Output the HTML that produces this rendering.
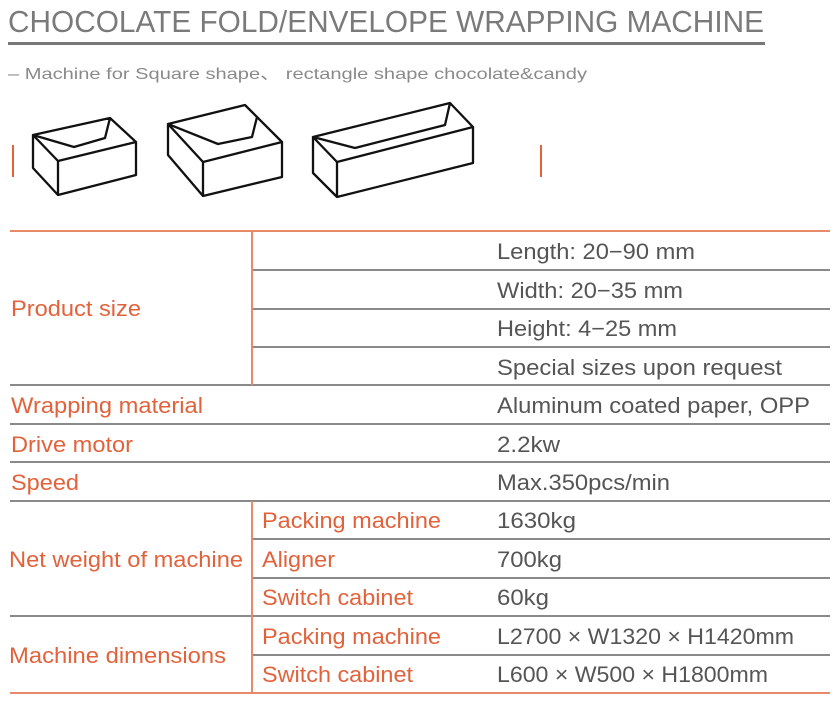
<!DOCTYPE html>
<html><head><meta charset="utf-8"><style>
html,body{margin:0;padding:0;background:#fff;}
svg{display:block;}
text{font-family:"Liberation Sans","Noto Sans CJK SC",sans-serif;}
.l{fill:#e2623c;font-size:22px;}
.v{fill:#555;font-size:22px;}
</style></head><body>
<svg width="836" height="704" viewBox="0 0 836 704" xmlns="http://www.w3.org/2000/svg">
<text x="8" y="32" font-size="31" fill="#7a7a7a" textLength="756" lengthAdjust="spacingAndGlyphs">CHOCOLATE FOLD/ENVELOPE WRAPPING MACHINE</text>
<rect x="8" y="42" width="757" height="3" fill="#777"/>
<text x="8" y="79" font-size="16" fill="#8a8a8a" textLength="579" lengthAdjust="spacingAndGlyphs">– Machine for Square shape、 rectangle shape chocolate&amp;candy</text>
<rect x="12" y="145" width="2" height="32" fill="#e2623c"/>
<rect x="540" y="145" width="2" height="32" fill="#e2623c"/>
<g fill="none" stroke="#111" stroke-width="2.3" stroke-linejoin="round">
<path d="M33,135 L110,118 L136,142 L58,161 Z M58,161 L58,195 L136,175 L136,142 M33,135 L33,168 L58,195 M33,135 L74,147 L105,138 L110,118"/>
<path d="M168,124 L245,105 L282,142 L203,162 Z M203,162 L203,196 L282,177 L282,142 M168,124 L168,155 L203,196 M168,124 L218,144 L252,137 L257,117"/>
<path d="M313,137 L450,103 L473,127 L337,162 Z M337,162 L337,197 L473,163 L473,127 M313,137 L313,173 L337,197 M313,137 L355,148 L445,125 L450,103"/>
</g>
<g fill="#8a8a8a">
<rect x="252" y="269" width="578" height="2"/>
<rect x="252" y="308" width="578" height="2"/>
<rect x="252" y="346" width="578" height="2"/>
<rect x="10" y="384" width="820" height="2"/>
<rect x="10" y="423" width="820" height="2"/>
<rect x="10" y="461" width="820" height="2"/>
<rect x="10" y="500" width="820" height="2"/>
<rect x="252" y="538" width="578" height="2"/>
<rect x="252" y="577" width="578" height="2"/>
<rect x="10" y="615" width="820" height="2"/>
<rect x="252" y="654" width="578" height="2"/>
</g>
<g fill="#e8896a">
<rect x="10" y="230" width="820" height="2"/>
<rect x="10" y="692" width="820" height="2"/>
<rect x="251" y="231" width="2" height="154"/>
<rect x="251" y="501" width="2" height="192"/>
</g>
<text class="v" x="497" y="259" textLength="198" lengthAdjust="spacingAndGlyphs">Length: 20−90 mm</text>
<text class="v" x="497" y="298" textLength="186" lengthAdjust="spacingAndGlyphs">Width: 20−35 mm</text>
<text class="v" x="497" y="336" textLength="180" lengthAdjust="spacingAndGlyphs">Height: 4−25 mm</text>
<text class="v" x="497" y="375" textLength="285" lengthAdjust="spacingAndGlyphs">Special sizes upon request</text>
<text class="v" x="497" y="413" textLength="313" lengthAdjust="spacingAndGlyphs">Aluminum coated paper, OPP</text>
<text class="v" x="497" y="452" textLength="63" lengthAdjust="spacingAndGlyphs">2.2kw</text>
<text class="v" x="497" y="490" textLength="173" lengthAdjust="spacingAndGlyphs">Max.350pcs/min</text>
<text class="v" x="497" y="528" textLength="79" lengthAdjust="spacingAndGlyphs">1630kg</text>
<text class="v" x="497" y="567" textLength="65" lengthAdjust="spacingAndGlyphs">700kg</text>
<text class="v" x="497" y="605" textLength="52" lengthAdjust="spacingAndGlyphs">60kg</text>
<text class="v" x="497" y="644" textLength="297" lengthAdjust="spacingAndGlyphs">L2700 × W1320 × H1420mm</text>
<text class="v" x="497" y="682" textLength="271" lengthAdjust="spacingAndGlyphs">L600 × W500 × H1800mm</text>
<text class="l" x="11" y="316" textLength="130" lengthAdjust="spacingAndGlyphs">Product size</text>
<text class="l" x="11" y="413" textLength="192" lengthAdjust="spacingAndGlyphs">Wrapping material</text>
<text class="l" x="11" y="452" textLength="122" lengthAdjust="spacingAndGlyphs">Drive motor</text>
<text class="l" x="11" y="490" textLength="68" lengthAdjust="spacingAndGlyphs">Speed</text>
<text class="l" x="9" y="567" textLength="234" lengthAdjust="spacingAndGlyphs">Net weight of machine</text>
<text class="l" x="9" y="663" textLength="217" lengthAdjust="spacingAndGlyphs">Machine dimensions</text>
<text class="l" x="262" y="528" textLength="179" lengthAdjust="spacingAndGlyphs">Packing machine</text>
<text class="l" x="262" y="567" textLength="73" lengthAdjust="spacingAndGlyphs">Aligner</text>
<text class="l" x="262" y="605" textLength="151" lengthAdjust="spacingAndGlyphs">Switch cabinet</text>
<text class="l" x="262" y="644" textLength="179" lengthAdjust="spacingAndGlyphs">Packing machine</text>
<text class="l" x="262" y="682" textLength="151" lengthAdjust="spacingAndGlyphs">Switch cabinet</text>
</svg>
</body></html>
